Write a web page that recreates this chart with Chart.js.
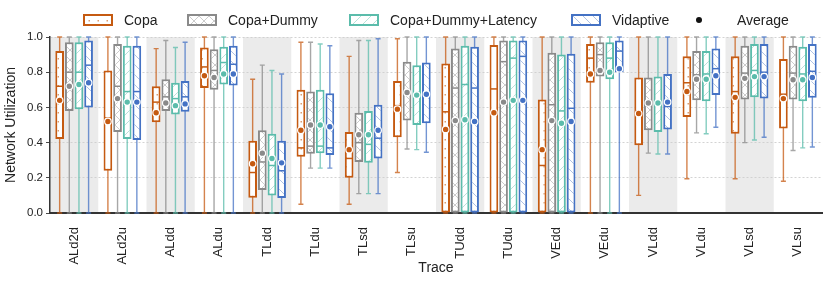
<!DOCTYPE html>
<html>
<head>
<meta charset="utf-8">
<script src="https://cdn.jsdelivr.net/npm/chart.js@4"></script>
<style>
  body { margin: 0; background: #fff; }
  #wrap { position: relative; width: 831px; height: 283px; }
  #legend { position: absolute; top: 12px; left: 0; width: 831px; height: 16px;
            font: 14px "Liberation Sans", Arial, sans-serif; color: #222; }
  .item { position: absolute; top: 0; height: 16px; display: flex; align-items: center; white-space: nowrap; }
  .sw { width: 26px; height: 8px; border: 2px solid; margin-right: 11px; background-color: #fff; }
  .dot { width: 6px; height: 6px; border-radius: 50%; background: #111; margin-right: 35px; margin-left: -3px; }
</style>
</head>
<body>
<div id="wrap">
  <canvas id="chart" width="831" height="283"></canvas>
  <div id="legend"></div>
</div>
<script>
// categories
const traces = ["ALd2d", "ALd2u", "ALdd", "ALdu", "TLdd", "TLdu", "TLsd", "TLsu",
                "TUdd", "TUdu", "VEdd", "VEdu", "VLdd", "VLdu", "VLsd", "VLsu"];
const yTicks = [0, 0.2, 0.4, 0.6, 0.8, 1.0];

// Copa
const copaLo   = [0, 0, 0, 0, 0, 0.05, 0.05, 0.23, 0, 0, 0, 0, 0.10, 0.195, 0.195, 0.18];
const copaQ1   = [0.42, 0.24, 0.515, 0.71, 0.087, 0.32, 0.20, 0.43, 0, 0, 0, 0.74, 0.385, 0.545, 0.45, 0.48];
const copaMed  = [0.72, 0.54, 0.63, 0.83, 0.23, 0.37, 0.31, 0.61, 0.575, 0.705, 0.27, 0.88, 0.58, 0.74, 0.69, 0.675];
const copaQ3   = [0.92, 0.81, 0.72, 0.94, 0.41, 0.70, 0.46, 0.75, 0.85, 0.955, 0.645, 0.96, 0.77, 0.89, 0.89, 0.875];
const copaHi   = [1, 1, 0.934, 1, 0.76, 0.97, 0.89, 0.99, 1, 1, 1, 1, 1, 1, 1, 1];
const copaMean = [0.64, 0.52, 0.57, 0.78, 0.28, 0.47, 0.36, 0.59, 0.475, 0.57, 0.36, 0.79, 0.565, 0.69, 0.657, 0.65];

// Copa+Dummy
const dummyLo   = [0, 0, 0, 0, 0, 0.255, 0.11, 0.364, 0, 0, 0, 0, 0.34, 0.455, 0.40, 0.355];
const dummyQ1   = [0.58, 0.46, 0.58, 0.70, 0.13, 0.336, 0.29, 0.525, 0, 0, 0, 0.775, 0.47, 0.64, 0.645, 0.645];
const dummyMed  = [0.80, 0.72, 0.66, 0.81, 0.29, 0.38, 0.40, 0.69, 0.71, 0.86, 0.615, 0.90, 0.61, 0.785, 0.795, 0.795];
const dummyQ3   = [0.97, 0.96, 0.76, 0.93, 0.47, 0.69, 0.57, 0.86, 0.935, 0.98, 0.91, 0.97, 0.77, 0.92, 0.95, 0.95];
const dummyHi   = [1, 1, 0.98, 1, 0.84, 0.97, 0.98, 1, 1, 1, 1, 1, 1, 1, 1, 1];
const dummyMean = [0.72, 0.65, 0.625, 0.77, 0.34, 0.50, 0.445, 0.685, 0.525, 0.63, 0.525, 0.81, 0.625, 0.76, 0.765, 0.757];

// Copa+Dummy+Latency
const latLo   = [0, 0, 0, 0, 0, 0.255, 0.11, 0.36, 0, 0, 0, 0, 0.335, 0.45, 0.415, 0.37];
const latQ1   = [0.59, 0.42, 0.56, 0.73, 0.10, 0.34, 0.285, 0.50, 0, 0, 0, 0.76, 0.46, 0.635, 0.657, 0.635];
const latMed  = [0.80, 0.69, 0.65, 0.855, 0.27, 0.38, 0.39, 0.68, 0.73, 0.88, 0.58, 0.88, 0.62, 0.79, 0.81, 0.79];
const latQ3   = [0.97, 0.95, 0.74, 0.945, 0.45, 0.70, 0.58, 0.84, 0.95, 0.98, 0.90, 0.97, 0.775, 0.92, 0.96, 0.945];
const latHi   = [1, 1, 0.94, 1, 0.81, 0.96, 0.98, 1, 1, 1, 1, 1, 1, 1, 1, 1];
const latMean = [0.73, 0.63, 0.61, 0.79, 0.31, 0.50, 0.445, 0.67, 0.53, 0.64, 0.51, 0.80, 0.625, 0.76, 0.775, 0.757];

// Vidaptive
const vidLo   = [0, 0, 0, 0, 0, 0.255, 0.11, 0.345, 0, 0, 0, 0, 0.335, 0.487, 0.43, 0.375];
const vidQ1   = [0.60, 0.415, 0.575, 0.725, 0.085, 0.33, 0.31, 0.51, 0, 0, 0, 0.80, 0.475, 0.67, 0.65, 0.655];
const vidMed  = [0.84, 0.69, 0.66, 0.845, 0.24, 0.37, 0.425, 0.68, 0.71, 0.89, 0.595, 0.92, 0.605, 0.82, 0.80, 0.805];
const vidQ3   = [0.98, 0.95, 0.75, 0.95, 0.41, 0.68, 0.615, 0.855, 0.945, 0.98, 0.905, 0.98, 0.79, 0.935, 0.96, 0.96];
const vidHi   = [1, 1, 0.97, 1, 0.79, 0.95, 0.99, 1, 1, 1, 1, 1, 1, 1, 1, 1];
const vidMean = [0.74, 0.63, 0.62, 0.79, 0.285, 0.49, 0.47, 0.675, 0.52, 0.64, 0.52, 0.82, 0.63, 0.78, 0.775, 0.77];

const FONT = '"Liberation Sans", Arial, sans-serif';

// hatch tiles
function tile(kind, color) {
  const c = document.createElement('canvas');
  const s = kind === 'dots' ? 9 : 10;
  c.width = s; c.height = s;
  const g = c.getContext('2d');
  g.fillStyle = '#fff';
  g.fillRect(0, 0, s, s);
  g.strokeStyle = color;
  g.fillStyle = color;
  g.lineWidth = 0.8;
  if (kind === 'dots') {
    g.globalAlpha = 0.6;
    g.fillRect(3.5, 4, 1.5, 1.5);
  } else {
    g.globalAlpha = 0.55;
    g.beginPath();
    if (kind === 'x' || kind === '/') { g.moveTo(0, s); g.lineTo(s, 0); }
    if (kind === 'x' || kind === '\\') { g.moveTo(0, 0); g.lineTo(s, s); }
    g.stroke();
  }
  return c;
}

const series = [
  { name: 'Copa', color: '#c55a11', hatch: 'dots', lo: copaLo, q1: copaQ1, med: copaMed, q3: copaQ3, hi: copaHi, mean: copaMean },
  { name: 'Copa+Dummy', color: '#8a8a8a', hatch: 'x', lo: dummyLo, q1: dummyQ1, med: dummyMed, q3: dummyQ3, hi: dummyHi, mean: dummyMean },
  { name: 'Copa+Dummy+Latency', color: '#5bbcab', hatch: '/', lo: latLo, q1: latQ1, med: latMed, q3: latQ3, hi: latHi, mean: latMean },
  { name: 'Vidaptive', color: '#4472c4', hatch: '\\', lo: vidLo, q1: vidQ1, med: vidMed, q3: vidQ3, hi: vidHi, mean: vidMean }
];

const ctx = document.getElementById('chart').getContext('2d');
series.forEach(s => {
  s.tile = tile(s.hatch, s.color);
  s.pattern = ctx.createPattern(s.tile, 'repeat');
});

// legend
const legend = document.getElementById('legend');
const legendX = [83, 187, 349, 571];
series.forEach((s, i) => {
  const it = document.createElement('div');
  it.className = 'item';
  it.style.left = legendX[i] + 'px';
  it.innerHTML = `<span class="sw" style="border-color:${s.color};background-image:url(${s.tile.toDataURL()})"></span>${s.name}`;
  legend.appendChild(it);
});
const avg = document.createElement('div');
avg.className = 'item';
avg.style.left = '699px';
avg.innerHTML = '<span class="dot"></span>Average';
legend.appendChild(avg);

function alpha(hex, a) {
  const n = parseInt(hex.slice(1), 16);
  return `rgba(${n >> 16},${(n >> 8) & 255},${n & 255},${a})`;
}

const boxPlot = {
  id: 'boxPlot',
  beforeDraw(chart) {
    const { ctx, chartArea, scales } = chart;
    const w = chartArea.width / traces.length;
    ctx.save();
    ctx.fillStyle = '#ebebeb';
    traces.forEach((t, j) => {
      if (j % 2 === 0) {
        const x = scales.x.getPixelForValue(j);
        ctx.fillRect(x - w / 2, chartArea.top, w, chartArea.height);
      }
    });
    ctx.restore();
  },
  beforeDatasetsDraw(chart) {
    const { ctx, scales } = chart;
    ctx.save();
    series.forEach((s, i) => {
      const meta = chart.getDatasetMeta(i);
      ctx.strokeStyle = alpha(s.color, 0.75);
      ctx.lineWidth = 1.4;
      meta.data.forEach((bar, j) => {
        const yLo = scales.y.getPixelForValue(s.lo[j]);
        const yHi = scales.y.getPixelForValue(s.hi[j]);
        ctx.beginPath();
        ctx.moveTo(bar.x, yLo); ctx.lineTo(bar.x, yHi);
        ctx.moveTo(bar.x - 2.5, yLo); ctx.lineTo(bar.x + 2.5, yLo);
        ctx.moveTo(bar.x - 2.5, yHi); ctx.lineTo(bar.x + 2.5, yHi);
        ctx.stroke();
      });
    });
    ctx.restore();
  },
  afterDatasetsDraw(chart) {
    const { ctx, scales } = chart;
    ctx.save();
    series.forEach((s, i) => {
      const meta = chart.getDatasetMeta(i);
      meta.data.forEach((bar, j) => {
        const half = bar.width / 2;
        const ym = scales.y.getPixelForValue(s.med[j]);
        ctx.strokeStyle = s.color;
        ctx.lineWidth = 1.5;
        ctx.beginPath();
        ctx.moveTo(bar.x - half + 1, ym); ctx.lineTo(bar.x + half - 1, ym);
        ctx.stroke();
        const ya = scales.y.getPixelForValue(s.mean[j]);
        ctx.beginPath();
        ctx.arc(bar.x, ya, 3.3, 0, Math.PI * 2);
        ctx.fillStyle = s.color;
        ctx.fill();
        ctx.strokeStyle = '#fff';
        ctx.lineWidth = 1.2;
        ctx.stroke();
      });
    });
    ctx.restore();
  }
};

new Chart(ctx, {
  type: 'bar',
  data: {
    labels: traces,
    datasets: series.map(s => ({
      label: s.name,
      data: s.q1.map((v, k) => [v, s.q3[k]]),
      backgroundColor: s.pattern,
      borderColor: s.color,
      borderWidth: 2,
      borderSkipped: false,
      categoryPercentage: 0.8,
      barPercentage: 0.9
    }))
  },
  options: {
    responsive: false,
    animation: false,
    layout: { padding: { top: 37, right: 9, left: 0, bottom: 0 } },
    plugins: { legend: { display: false }, tooltip: { enabled: false } },
    scales: {
      x: {
        grid: { display: false },
        border: { display: true, color: '#333', width: 2 },
        ticks: { maxRotation: 90, minRotation: 90, padding: 6, color: '#222', font: { family: FONT, size: 13 } },
        title: { display: true, text: 'Trace', color: '#222', font: { family: FONT, size: 14 }, padding: { top: 0, bottom: 6 } },
        afterFit: s => { s.height = 70; }
      },
      y: {
        min: 0, max: 1,
        afterBuildTicks: s => { s.ticks = yTicks.map(v => ({ value: v })); },
        grid: { color: '#cfcfcf', lineWidth: 0.9, tickLength: 4, tickColor: '#333', tickBorderDash: [], tickBorderDashOffset: 0 },
        border: { display: true, color: '#333', width: 1.5, dash: [2, 2] },
        ticks: { color: '#222', padding: 3, font: { family: FONT, size: 11.5 }, callback: v => v.toFixed(1) },
        title: { display: true, text: 'Network Utilization', color: '#222', font: { family: FONT, size: 14 }, padding: { top: 3, bottom: 0 } },
        afterFit: s => { s.width = 50; }
      }
    }
  },
  plugins: [boxPlot]
});
</script>
</body>
</html>
